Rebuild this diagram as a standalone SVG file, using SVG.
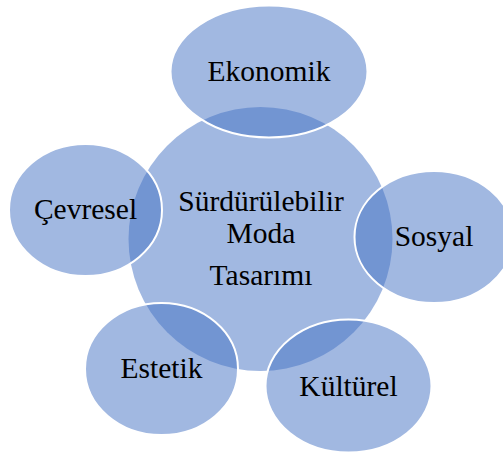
<svg xmlns="http://www.w3.org/2000/svg" width="503" height="455" viewBox="0 0 503 455">
<style>
.b{fill:#4472C4;fill-opacity:.5}
.s{stroke:#fff;stroke-width:2}
text{font-family:"Liberation Serif","Times New Roman",serif;font-size:29.5px;fill:#000;text-anchor:middle}
</style>
<rect width="503" height="455" fill="#fff"/>
<g id="center"><ellipse class="b" cx="260.5" cy="239" rx="132" ry="132"/></g>
<g id="ekonomik"><ellipse class="b s" cx="269" cy="71.5" rx="98.5" ry="66"/><text x="269" y="81">Ekonomik</text></g>
<g id="sosyal"><ellipse class="b s" cx="434" cy="237" rx="79.5" ry="66"/><text x="434" y="246">Sosyal</text></g>
<g id="kulturel"><ellipse class="b s" cx="348.5" cy="386" rx="83" ry="66.5"/><text x="348.5" y="396">Kültürel</text></g>
<g id="estetik"><ellipse class="b s" cx="161.5" cy="369" rx="76.5" ry="66"/><text x="161.5" y="378">Estetik</text></g>
<g id="cevresel"><ellipse class="b s" cx="85.5" cy="210" rx="76.5" ry="66"/><text x="85.5" y="219">Çevresel</text></g>
<g id="center-label"><text x="261" y="211">Sürdürülebilir</text><text x="261" y="243">Moda</text><text x="261" y="285">Tasarımı</text></g>
<g id="connectors"/>
</svg>
